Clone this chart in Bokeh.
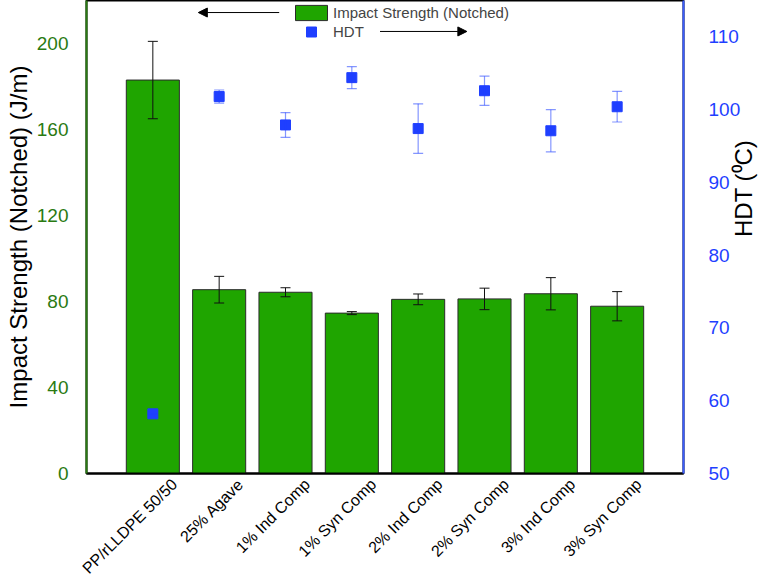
import math
from bokeh.plotting import figure
from bokeh.models import (Range1d, LinearAxis, FixedTicker, ColumnDataSource, Whisker,
                          TeeHead, Legend, LegendItem, Arrow, NormalHead)
from bokeh.embed import file_html
from bokeh.resources import INLINE

# ---------------- data ----------------
categories = ["PP/rLLDPE 50/50", "25% Agave", "1% Ind Comp", "1% Syn Comp",
              "2% Ind Comp", "2% Syn Comp", "3% Ind Comp", "3% Syn Comp"]
impact = [183.0, 85.5, 84.3, 74.6, 81.0, 81.2, 83.6, 77.8]
impact_err = [18.0, 6.2, 2.1, 0.7, 2.5, 5.0, 7.5, 6.8]
hdt = [58.2, 101.8, 97.9, 104.4, 97.4, 102.6, 97.1, 100.4]
hdt_err = [0.0, 0.9, 1.7, 1.5, 3.4, 2.0, 2.9, 2.1]
left_ticks = [0, 40, 80, 120, 160, 200]
right_ticks = [50, 60, 70, 80, 90, 100, 110]

# ---------------- styles / layout ----------------
FONT = "Liberation Sans"
BAR_GREEN = "#1fa500"
LEFT_GREEN = "#2a7a12"
BLUE = "#1f3fff"
AXIS_BLUE = "#3a5cff"
FRAME_H = 473
BOTTOM = 115

xs = list(range(1, len(categories) + 1))
src = ColumnDataSource(dict(
    x=xs, impact=impact,
    imp_up=[v + e for v, e in zip(impact, impact_err)],
    imp_lo=[v - e for v, e in zip(impact, impact_err)],
    hdt=hdt,
    hdt_up=[v + e for v, e in zip(hdt, hdt_err)],
    hdt_lo=[v - e for v, e in zip(hdt, hdt_err)],
))

p = figure(width=773, height=FRAME_H + BOTTOM, x_range=Range1d(0, len(categories) + 1),
           y_range=Range1d(0, 220), output_backend="svg", toolbar_location=None,
           x_axis_location=None, min_border_left=86, min_border_right=89,
           min_border_top=0, min_border_bottom=BOTTOM)
p.grid.visible = False
p.outline_line_color = "black"
p.outline_line_width = 2
p.background_fill_color = "white"
p.border_fill_color = "white"

# shifted x axis so the rotated labels end to the right of each bar centre
label_shift = 0.325
p.extra_x_ranges = {"lab": Range1d(0 - label_shift, len(categories) + 1 - label_shift)}
xax = LinearAxis(x_range_name="lab", ticker=FixedTicker(ticks=xs),
                 major_label_overrides={x: c for x, c in zip(xs, categories)})
xax.major_label_orientation = math.pi / 4
xax.major_tick_line_color = None
xax.minor_tick_line_color = None
xax.axis_line_color = "black"
xax.axis_line_width = 2
xax.major_label_standoff = 2
xax.major_label_text_font = FONT
xax.major_label_text_font_size = "16px"
xax.major_label_text_color = "black"
p.add_layout(xax, "below")

# left axis
yl = p.yaxis[0]
yl.ticker = FixedTicker(ticks=left_ticks)
yl.major_tick_line_color = None
yl.minor_tick_line_color = None
yl.axis_line_color = LEFT_GREEN
yl.axis_line_width = 2
yl.major_label_text_color = LEFT_GREEN
yl.major_label_text_font = FONT
yl.major_label_text_font_size = "19px"
yl.major_label_standoff = 12
yl.axis_label = "Impact Strength (Notched) (J/m)"
yl.axis_label_text_font = FONT
yl.axis_label_text_font_size = "24px"
yl.axis_label_text_font_style = "normal"
yl.axis_label_text_color = "black"
yl.axis_label_standoff = 2

# right axis
p.extra_y_ranges = {"hdt": Range1d(50, 115)}
yr = LinearAxis(y_range_name="hdt", ticker=FixedTicker(ticks=right_ticks))
yr.major_tick_line_color = None
yr.minor_tick_line_color = None
yr.axis_line_color = AXIS_BLUE
yr.axis_line_width = 2
yr.major_label_text_color = BLUE
yr.major_label_text_font = FONT
yr.major_label_text_font_size = "19px"
yr.major_label_standoff = 19
yr.axis_label = "HDT (\u2070C)"
yr.axis_label_text_font = FONT
yr.axis_label_text_font_size = "24px"
yr.axis_label_text_font_style = "normal"
yr.axis_label_text_color = "black"
yr.axis_label_standoff = 0
yr.axis_label_orientation = math.pi / 2
p.add_layout(yr, "right")

# bars
bars = p.vbar(x="x", top="impact", bottom=0, width=0.8, source=src,
              fill_color=BAR_GREEN, line_color="#2b2b2b", line_width=1)
imp_w = Whisker(source=src, base="x", upper="imp_up", lower="imp_lo",
                dimension="height", line_color="#111111", line_width=1,
                upper_head=TeeHead(size=10, line_color="#111111", line_width=1),
                lower_head=TeeHead(size=10, line_color="#111111", line_width=1),
                level="annotation")
p.add_layout(imp_w)

# HDT
hdt_w = Whisker(source=src, base="x", upper="hdt_up", lower="hdt_lo",
                dimension="height", y_range_name="hdt", line_color=BLUE,
                line_alpha=0.55, line_width=1.2,
                upper_head=TeeHead(size=10, line_color=BLUE, line_alpha=0.55, line_width=1.2),
                lower_head=TeeHead(size=10, line_color=BLUE, line_alpha=0.55, line_width=1.2),
                level="glyph")
p.add_layout(hdt_w)
pts = p.scatter(x="x", y="hdt", y_range_name="hdt", source=src, marker="square",
                size=10, fill_color=BLUE, line_color=BLUE)

# legends (location = left / bottom edge, measured from frame bottom-left)
leg1 = Legend(items=[LegendItem(label="Impact Strength (Notched)", renderers=[bars])],
              location=(205, FRAME_H - 21.5), glyph_width=40, glyph_height=19,
              label_height=19, padding=0, margin=0, spacing=0,
              border_line_color=None, background_fill_alpha=0, label_text_font=FONT,
              label_text_font_size="15px", label_standoff=2)
leg2 = Legend(items=[LegendItem(label="HDT", renderers=[pts])],
              location=(205, FRAME_H - 43.5), glyph_width=40, glyph_height=25,
              label_height=25, padding=0, margin=0, spacing=0,
              border_line_color=None, background_fill_alpha=0, label_text_font=FONT,
              label_text_font_size="15px", label_standoff=2)
p.add_layout(leg1)
p.add_layout(leg2)

# arrows pointing to the axis each series belongs to
p.add_layout(Arrow(x_start=2.905, y_start=214.4, x_end=1.686, y_end=214.4,
                   line_color="black", line_width=1,
                   end=NormalHead(size=9, fill_color="black", line_color="black")))
p.add_layout(Arrow(x_start=4.425, y_start=205.6, x_end=5.734, y_end=205.6,
                   line_color="black", line_width=1,
                   end=NormalHead(size=9, fill_color="black", line_color="black")))

open("out.html", "w").write(file_html(p, INLINE))
